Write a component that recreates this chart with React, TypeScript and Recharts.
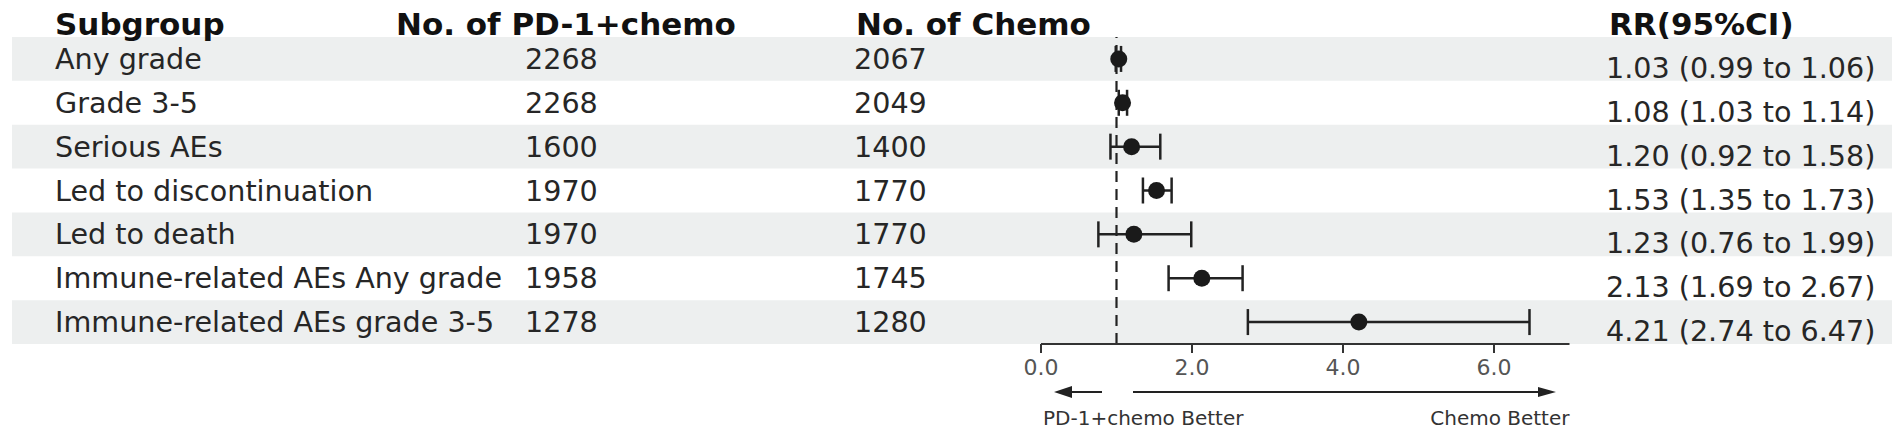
import React from 'react';
import {
  ScatterChart,
  Scatter,
  XAxis,
  YAxis,
  ErrorBar,
  ReferenceLine,
  ReferenceArea,
} from 'recharts';

// ---- data ----
const subgroups = [
  'Any grade',
  'Grade 3-5',
  'Serious AEs',
  'Led to discontinuation',
  'Led to death',
  'Immune-related AEs Any grade',
  'Immune-related AEs grade 3-5',
];
const nPd1Chemo = [2268, 2268, 1600, 1970, 1970, 1958, 1278];
const nChemo = [2067, 2049, 1400, 1770, 1770, 1745, 1280];
const rrValues = [1.03, 1.08, 1.2, 1.53, 1.23, 2.13, 4.21];
const ciLow = [0.99, 1.03, 0.92, 1.35, 0.76, 1.69, 2.74];
const ciHigh = [1.06, 1.14, 1.58, 1.73, 1.99, 2.67, 6.47];
const xTicks = [0, 2, 4, 6];
const headerLabels = ['Subgroup', 'No. of PD-1+chemo', 'No. of Chemo', 'RR(95%CI)'];
const leftLabel = 'PD-1+chemo Better';
const rightLabel = 'Chemo Better';

// ---- layout ----
const W = 1902;
const H = 435;
const PLOT_LEFT = 1041;
const PLOT_RIGHT = 1569.5;
const PLOT_TOP = 37;
const PLOT_BOTTOM = 344;
const X_MAX = 7;
const PX_PER_UNIT = (PLOT_RIGHT - PLOT_LEFT) / X_MAX;
const BAND_LEFT_PX = 12;
const BAND_RIGHT_PX = 1892;
const COL_X = [55, 525, 854, 1606];
const HEADER_X = [55, 396, 856, 1609];
const FONT = '"DejaVu Sans", Verdana, sans-serif';

const rowIdx = subgroups.map((_, i) => i);
const data = subgroups.map((name, i) => ({
  name,
  row: i,
  rr: rrValues[i],
  err: [rrValues[i] - ciLow[i], ciHigh[i] - rrValues[i]],
}));

const bandX1 = (BAND_LEFT_PX - PLOT_LEFT) / PX_PER_UNIT;
const bandX2 = (BAND_RIGHT_PX - PLOT_LEFT) / PX_PER_UNIT;

const RowTick = (props: any) => {
  const { y, payload } = props;
  const i = payload.value as number;
  if (i < 0 || i >= subgroups.length) return null;
  const rrText = `${rrValues[i].toFixed(2)} (${ciLow[i].toFixed(2)} to ${ciHigh[i].toFixed(2)})`;
  return (
    <g fontFamily={FONT} fontSize={28.6} fill="#262626">
      <text x={COL_X[0]} y={y + 10} fill="#262626">{subgroups[i]}</text>
      <text x={COL_X[1]} y={y + 10} fill="#262626">{nPd1Chemo[i]}</text>
      <text x={COL_X[2]} y={y + 10} fill="#262626">{nChemo[i]}</text>
      <text x={COL_X[3]} y={y + 19} fill="#262626">{rrText}</text>
    </g>
  );
};

const HeaderLabel = (props: any) => {
  const vb = props.viewBox || { x: 0, y: PLOT_TOP };
  const yb = vb.y - 2;
  return (
    <g fontFamily={FONT} fontSize={31} fontWeight="bold" fill="#111">
      {headerLabels.map((h, k) => (
        <text key={k} x={HEADER_X[k]} y={yb} fill="#111">{h}</text>
      ))}
    </g>
  );
};

const ArrowLabel = (props: any) => {
  const vb = props.viewBox || { x: PLOT_LEFT, y: PLOT_BOTTOM, width: PLOT_RIGHT - PLOT_LEFT };
  const x0 = vb.x;
  const ya = vb.y + 48;
  const yt = vb.y + 74;
  return (
    <g fontFamily={FONT}>
      <line x1={x0 + 28} y1={ya} x2={x0 + 61} y2={ya} stroke="#222" strokeWidth={2} />
      <polygon points={`${x0 + 13},${ya} ${x0 + 31},${ya - 6} ${x0 + 31},${ya + 6}`} fill="#222" />
      <line x1={x0 + 92} y1={ya} x2={x0 + 500} y2={ya} stroke="#222" strokeWidth={2} />
      <polygon points={`${x0 + 515},${ya} ${x0 + 497},${ya - 5} ${x0 + 497},${ya + 5}`} fill="#222" />
      <text x={x0 + 2} y={yt} fontSize={20} fill="#333" dominantBaseline="central">{leftLabel}</text>
      <text x={x0 + vb.width} y={yt} fontSize={20} fill="#333" textAnchor="end" dominantBaseline="central">{rightLabel}</text>
    </g>
  );
};

const Dot = (props: any) => {
  const { cx, cy } = props;
  if (cx == null || cy == null) return null;
  return <circle cx={cx} cy={cy} r={8.5} fill="#1a1a1a" />;
};

export default function App() {
  return (
    <div style={{ position: 'absolute', left: 0, top: 0, width: W, height: H, background: '#fff' }}>
      <ScatterChart
        width={W}
        height={H}
        margin={{ top: PLOT_TOP, right: W - PLOT_RIGHT, bottom: 0, left: 0 }}
        style={{ fontFamily: FONT }}
      >
        {rowIdx
          .filter((i) => i % 2 === 0)
          .map((i) => (
            <ReferenceArea
              key={`band-${i}`}
              x1={bandX1}
              x2={bandX2}
              y1={i - 0.5}
              y2={i + 0.5}
              fill="#edefef"
              fillOpacity={1}
              stroke="none"
              ifOverflow="visible"
            />
          ))}
        <XAxis
          type="number"
          dataKey="rr"
          domain={[0, X_MAX]}
          ticks={xTicks}
          tickFormatter={(v: number) => v.toFixed(1)}
          height={H - PLOT_BOTTOM}
          axisLine={{ stroke: '#333', strokeWidth: 2 }}
          tickLine={{ stroke: '#333', strokeWidth: 2 }}
          tickSize={9}
          tickMargin={6}
          tick={{ fill: '#555', fontSize: 22, fontFamily: FONT }}
          label={(p: any) => <ArrowLabel {...p} />}
        />
        <YAxis
          type="number"
          dataKey="row"
          domain={[-0.5, subgroups.length - 0.5]}
          ticks={rowIdx}
          interval={0}
          reversed
          width={PLOT_LEFT}
          axisLine={false}
          tickLine={false}
          tick={(p: any) => <RowTick {...p} />}
          label={(p: any) => <HeaderLabel {...p} />}
        />
        <ReferenceLine x={1} stroke="#222" strokeWidth={2.2} strokeDasharray="11 7" ifOverflow="visible" />
        <Scatter data={data} shape={(p: any) => <Dot {...p} />} isAnimationActive={false}>
          <ErrorBar dataKey="err" direction="x" width={13} strokeWidth={2.5} stroke="#222" />
        </Scatter>
      </ScatterChart>
    </div>
  );
}
